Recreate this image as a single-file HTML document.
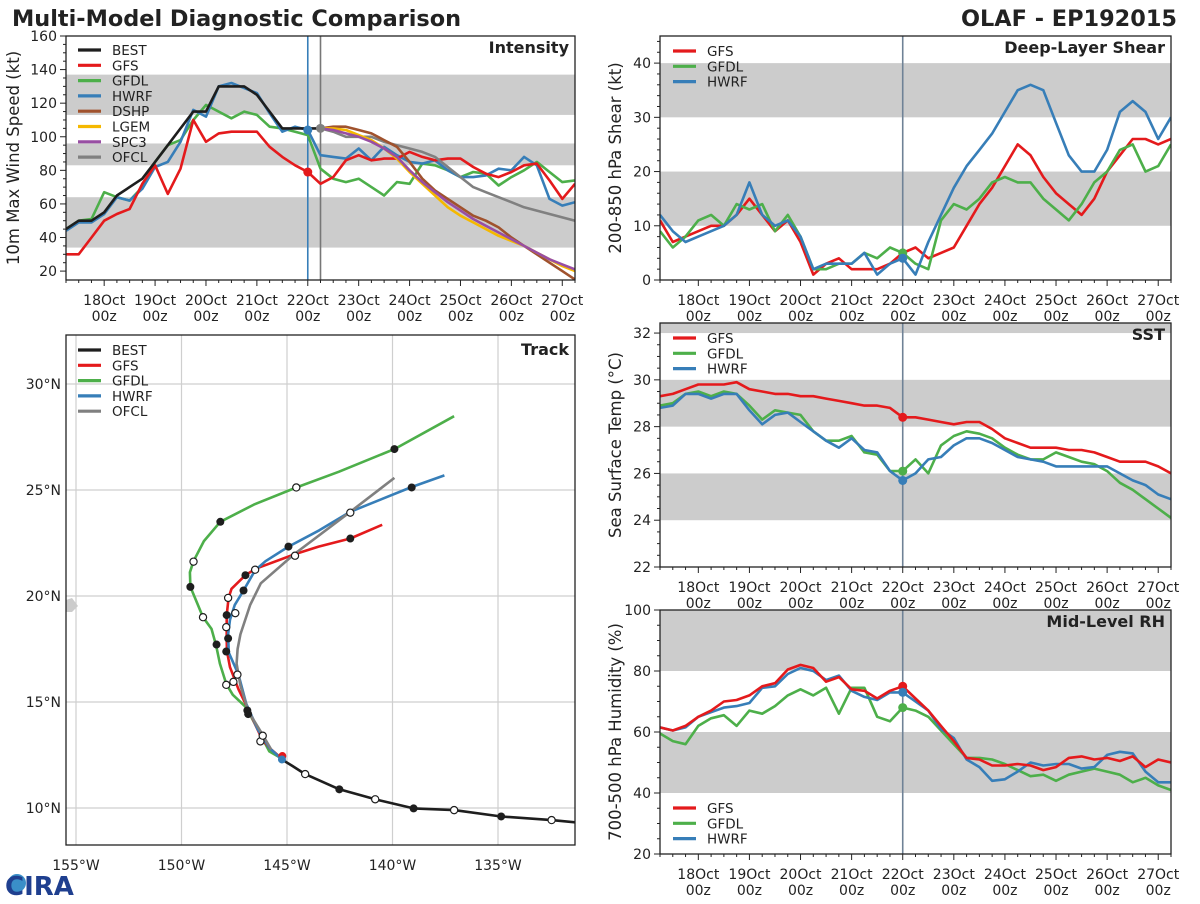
<!DOCTYPE html>
<html><head><meta charset="utf-8">
<style>
html,body{margin:0;padding:0;background:#fff;}
body{width:1200px;height:900px;overflow:hidden;font-family:"DejaVu Sans","Liberation Sans",sans-serif;}
svg text{font-family:"DejaVu Sans","Liberation Sans",sans-serif;}
</style></head>
<body>
<svg id="chart" width="1200" height="900" viewBox="0 0 1200 900" xmlns="http://www.w3.org/2000/svg">
  <text x="12" y="26" font-size="22.4" font-weight="bold" fill="#222">Multi-Model Diagnostic Comparison</text>
  <text x="1177" y="26" font-size="22.4" font-weight="bold" fill="#222" text-anchor="end">OLAF - EP192015</text>
  <g>
    <circle cx="17" cy="883" r="9" fill="#3a8fc8"/>
    <text x="5" y="895" font-size="26" font-weight="bold" fill="#1f3f8f" font-family="Liberation Serif, serif">CIRA</text>
  </g>
</svg>
<script>
// ---------- DATA ----------
const dayLabels = ["18Oct","19Oct","20Oct","21Oct","22Oct","23Oct","24Oct","25Oct","26Oct","27Oct"];
const intBEST = [45,50,50,55,65,70,75,85,95,105,115,115,130,130,130,125,115,105,105,105,105];
const intGFS = [30,30,40,50,54,57,72,83,66,81,110,97,102,103,103,103,94,88,83,79,72,76,86,89,86,87,87,91,88,86,87,87,82,78,76,79,83,84,74,63,72];
const intGFDL = [45,50,51,67,64,62,70,85,95,98,110,119,115,111,115,113,106,105,103,101,81,75,73,75,70,65,73,72,84,83,80,76,79,78,71,76,80,85,79,73,74];
const intHWRF = [44,49,49,54,64,62,69,82,85,97,116,112,130,132,129,126,114,103,106,104,89,88,87,93,86,94,89,85,84,86,80,76,76,77,81,80,88,83,63,59,61];
const intDSHP = [105,106,106,104,102,98,94,85,75,68,63,58,53,50,46,40,35,30,25,20,15];
const intLGEM = [105,105,104,101,98,93,87,79,72,65,58,53,49,45,41,38,35,31,27,23,20];
const intSPC3 = [105,104,102,100,97,93,88,80,73,67,61,56,51,47,43,39,35,31,27,24,21];
const intOFCL = [105,103,100,100,100,97,95,93,91,88,82,76,70,67,64,61,58,56,54,52,50];
const shrGFS = [11,7,8,9,10,10,12,15,12,9,11,7,1,3,4,2,2,2,3,5,6,4,5,6,10,14,17,21,25,23,19,16,14,12,15,20,23,26,26,25,26];
const shrGFDL = [9,6,8,11,12,10,14,13,14,9,12,8,2,2,3,3,5,4,6,5,3,2,11,14,13,15,18,19,18,18,15,13,11,14,18,20,24,25,20,21,25];
const shrHWRF = [12,9,7,8,9,10,12,18,12,10,11,8,2,3,3,3,5,1,3,4,1,7,12,17,21,24,27,31,35,36,35,29,23,20,20,24,31,33,31,26,30];
const sstGFS = [29.3,29.4,29.6,29.8,29.8,29.8,29.9,29.6,29.5,29.4,29.4,29.3,29.3,29.2,29.1,29.0,28.9,28.9,28.8,28.4,28.4,28.3,28.2,28.1,28.2,28.2,27.9,27.5,27.3,27.1,27.1,27.1,27.0,27.0,26.9,26.7,26.5,26.5,26.5,26.3,26.0];
const sstGFDL = [28.9,29.0,29.4,29.5,29.3,29.5,29.4,28.9,28.3,28.7,28.6,28.5,27.8,27.4,27.4,27.6,26.9,26.8,26.1,26.1,26.6,26.0,27.2,27.6,27.8,27.7,27.5,27.1,26.8,26.6,26.6,26.9,26.7,26.5,26.4,26.1,25.6,25.3,24.9,24.5,24.1];
const sstHWRF = [28.8,28.9,29.4,29.4,29.2,29.4,29.4,28.7,28.1,28.5,28.6,28.2,27.8,27.4,27.1,27.5,27.0,26.9,26.1,25.7,26.0,26.6,26.7,27.2,27.5,27.5,27.3,27.0,26.7,26.6,26.5,26.3,26.3,26.3,26.3,26.3,26.0,25.7,25.5,25.1,24.9];
const rhGFS = [61.5,60.5,62,65,67,70,70.5,72,75,76,80.5,82,81,76.5,78,74,73.5,71,73.5,75,71,67,62,57,51.5,51,49,49,49.5,49,47.5,48.5,51.5,52,51,51.5,50.5,52,48.5,51,50];
const rhGFDL = [59.5,57,56,62,64.5,65.5,62,67,66,68.5,72,74,72,74.5,66,74.5,74.5,65,63.5,68,67,65,60.5,56,51.5,51.5,51,49.5,47.5,45.5,46,44,46,47,48,47,46,43.5,45,42.5,41];
const rhHWRF = [61.5,60.5,61.5,65,66.5,68,68.5,69.5,74.5,75,79,81,80,77,78.5,73.5,71.5,70.5,73,73,70,67,61,58,51,48.5,44,44.5,47,50,49,49.5,49.5,48,48.5,52.5,53.5,53,47,43.5,43.5];
// track [lon, lat]
const trkBEST = [[-131.19,9.31],[-132.46,9.43],[-134.85,9.6],[-137.08,9.9],[-139.0,9.98],[-140.82,10.41],[-142.52,10.88],[-144.14,11.6],[-144.74,11.98],[-145.24,12.29]];
const trkGFS = [[-145.24,12.33],[-145.84,12.84],[-146.2,13.28],[-146.48,13.88],[-146.84,14.66],[-147.3,15.6],[-147.7,16.64],[-147.85,17.41],[-147.86,18.02],[-147.86,19.1],[-147.77,19.91],[-147.63,20.34],[-146.97,20.98],[-146.48,21.29],[-144.6,21.98],[-143.5,22.33],[-142.0,22.71],[-140.49,23.36]];
const trkGFDL = [[-145.24,12.33],[-145.84,12.67],[-146.93,14.74],[-147.57,15.34],[-147.88,15.86],[-148.18,16.81],[-148.36,17.67],[-148.58,18.45],[-148.98,19.0],[-149.22,19.57],[-149.58,20.43],[-149.6,21.12],[-149.43,21.64],[-148.94,22.59],[-148.16,23.5],[-146.57,24.31],[-144.56,25.12],[-142.55,25.86],[-139.91,26.93],[-137.08,28.48]];
const trkHWRF = [[-145.24,12.29],[-145.84,12.84],[-146.39,13.71],[-146.93,14.91],[-147.3,16.29],[-147.76,17.33],[-147.79,18.19],[-147.7,18.88],[-147.48,19.57],[-147.06,20.26],[-146.51,21.21],[-146.02,21.64],[-144.93,22.33],[-143.47,23.1],[-142.0,23.97],[-139.09,25.14],[-137.54,25.69]];
const trkOFCL = [[-145.75,12.76],[-146.2,13.53],[-146.84,14.57],[-147.21,15.78],[-147.39,16.81],[-147.34,17.5],[-147.21,18.19],[-146.75,19.57],[-146.24,20.6],[-144.65,21.98],[-142.0,23.97],[-139.91,25.57]];
const trkFilled = [[-139.91,26.93],[-148.16,23.5],[-149.58,20.43],[-148.34,17.71],[-146.88,14.6],[-142.0,22.71],[-146.97,20.98],[-147.86,19.1],[-147.79,18.0],[-147.88,17.38],[-146.84,14.43],[-144.93,22.33],[-147.06,20.26],[-139.09,25.12],[-134.85,9.6],[-139.0,9.98],[-142.52,10.88]];
const trkOpen = [[-144.56,25.12],[-149.43,21.62],[-148.98,19.0],[-147.88,15.81],[-144.62,21.9],[-147.79,19.91],[-147.88,18.53],[-147.54,15.95],[-146.26,13.14],[-146.51,21.24],[-147.45,19.19],[-147.35,16.29],[-142.0,23.93],[-146.15,13.41],[-132.46,9.43],[-137.08,9.9],[-140.82,10.41],[-144.14,11.6]];

// ---------- DRAWING ----------
const NS = 'http://www.w3.org/2000/svg';
const svg = document.getElementById('chart');
const C = {BEST:'#1e1e1e',GFS:'#e41a1c',GFDL:'#4daf4a',HWRF:'#377eb8',DSHP:'#a0522d',LGEM:'#f5b800',SPC3:'#984ea3',OFCL:'#808080'};
function mk(tag, attrs, parent){
  const e = document.createElementNS(NS, tag);
  for (const k in attrs) e.setAttribute(k, attrs[k]);
  (parent||svg).appendChild(e);
  return e;
}
function panel(p){
  const g = mk('g', {});
  
  
  p.g = g;
  p.xs = i => p.x0 + i*(p.x1-p.x0)/40;
  p.ys = v => p.y1 - (v-p.vmin)*(p.y1-p.y0)/(p.vmax-p.vmin);
  const cid = 'clip-'+p.name;
  const cp = mk('clipPath', {id:cid}, g);
  mk('rect', {x:p.x0, y:p.y0, width:p.x1-p.x0, height:p.y1-p.y0}, cp);
  p.clip = 'url(#'+cid+')';
  for (const b of p.bands){
    const r = mk('rect', {x:p.x0, y:p.ys(Math.min(b[1],p.vmax)), width:p.x1-p.x0, height:p.ys(b[0])-p.ys(Math.min(b[1],p.vmax)), fill:'#cccccc'}, g);
    
    
  }
  for (let v = p.vmin0; v <= p.vmax + 1e-6; v += p.minor){
    const y = p.ys(v);
    if (y < p.y0-0.5 || y > p.y1+0.5) continue;
    const isMaj = Math.abs((v - p.vmin0)/p.major - Math.round((v - p.vmin0)/p.major)) < 1e-6;
    mk('line', {x1:p.x0-(isMaj?6:3), x2:p.x0, y1:y, y2:y, stroke:'#222', 'stroke-width':1}, g);
    if (isMaj){
      const t = mk('text', {x:p.x0-9, y:y+5, 'font-size':14, fill:'#222', 'text-anchor':'end'}, g);
      t.textContent = String(Math.round(v));
      
      
    }
  }
  for (let i = 0; i <= 40; i++){
    const x = p.xs(i);
    const isMaj = (i % 4) === 3;
    mk('line', {x1:x, x2:x, y1:p.y1, y2:p.y1+(isMaj?6:3), stroke:'#222', 'stroke-width':1}, g);
    if (isMaj){
      const d = (i-3)/4;
      const t1 = mk('text', {x:x, y:p.y1+25, 'font-size':14, fill:'#222', 'text-anchor':'middle'}, g);
      t1.textContent = dayLabels[d];
      
      
      const t2 = mk('text', {x:x, y:p.y1+41, 'font-size':14, fill:'#222', 'text-anchor':'middle'}, g);
      t2.textContent = '00z';
      
      
    }
  }
  const yl = mk('text', {x:0, y:0, 'font-size':16.5, fill:'#222', 'text-anchor':'middle', transform:'translate('+p.ylx+','+((p.y0+p.y1)/2)+') rotate(-90)'}, g);
  yl.textContent = p.ylabel;
  
  
  return p;
}
function series(p, arr, start, color, name){
  const pts = arr.map((v,k) => p.xs(start+k).toFixed(1)+','+p.ys(v).toFixed(1)).join(' ');
  const l = mk('polyline', {points:pts, fill:'none', stroke:color, 'stroke-width':2.6, 'stroke-linejoin':'round', 'clip-path':p.clip}, p.g);
  
  
}
function dot(p, i, v, color){
  const c = mk('circle', {cx:p.xs(i), cy:p.ys(v), r:4.5, fill:color}, p.g);
  
  
}
function vline(p, i, color){
  const l = mk('line', {x1:p.xs(i), x2:p.xs(i), y1:p.y0, y2:p.y1, stroke:color, 'stroke-width':1.6}, p.g);
  
  
}
function frame(p){
  const r = mk('rect', {x:p.x0, y:p.y0, width:p.x1-p.x0, height:p.y1-p.y0, fill:'none', stroke:'#222', 'stroke-width':1.3}, p.g);
  
  
  const t = mk('text', {x:p.x1-6, y:p.y0+17, 'font-size':16, 'font-weight':'bold', fill:'#222', 'text-anchor':'end'}, p.g);
  t.textContent = p.title;
  
  
}
function legend(g, x, y, items, dy){
  items.forEach((it,k) => {
    const l = mk('line', {x1:x, x2:x+23, y1:y+k*dy, y2:y+k*dy, stroke:C[it], 'stroke-width':3.2}, g);
    
    
    const t = mk('text', {x:x+34, y:y+k*dy+5, 'font-size':13.5, fill:'#222'}, g);
    t.textContent = it;
    
    
  });
}

const pI = panel({name:'intensity-panel', x0:66, x1:575, y0:36, y1:280, vmin:14.7, vmax:160, vmin0:20, major:20, minor:5, bands:[[34,64],[83,96],[113,137]], ylabel:'10m Max Wind Speed (kt)', ylx:19, title:'Intensity'});
vline(pI, 19, '#377eb8'); vline(pI, 20, '#777777');
series(pI, intGFDL, 0, C.GFDL, 'gfdl-intensity-line');
series(pI, intHWRF, 0, C.HWRF, 'hwrf-intensity-line');
series(pI, intGFS, 0, C.GFS, 'gfs-intensity-line');
series(pI, intOFCL, 20, C.OFCL, 'ofcl-intensity-line');
series(pI, intDSHP, 20, C.DSHP, 'dshp-intensity-line');
series(pI, intLGEM, 20, C.LGEM, 'lgem-intensity-line');
series(pI, intSPC3, 20, C.SPC3, 'spc3-intensity-line');
series(pI, intBEST, 0, C.BEST, 'best-intensity-line');
dot(pI, 19, intGFS[19], C.GFS); dot(pI, 19, intHWRF[19], C.HWRF); dot(pI, 20, intOFCL[0], C.OFCL);
frame(pI);
legend(pI.g, 78, 50, ['BEST','GFS','GFDL','HWRF','DSHP','LGEM','SPC3','OFCL'], 15.3);

const pS = panel({name:'shear-panel', x0:660, x1:1171, y0:36, y1:280, vmin:0, vmax:45, vmin0:0, major:10, minor:2, bands:[[10,20],[30,40]], ylabel:'200-850 hPa Shear (kt)', ylx:621, title:'Deep-Layer Shear'});
vline(pS, 19, '#6f8296');
series(pS, shrGFS, 0, C.GFS, 'gfs-shear-line');
series(pS, shrGFDL, 0, C.GFDL, 'gfdl-shear-line');
series(pS, shrHWRF, 0, C.HWRF, 'hwrf-shear-line');
dot(pS, 19, shrGFDL[19], C.GFDL); dot(pS, 19, shrHWRF[19], C.HWRF);
frame(pS);
legend(pS.g, 673, 51, ['GFS','GFDL','HWRF'], 15.3);

const pT = panel({name:'sst-panel', x0:660, x1:1171, y0:323, y1:567, vmin:22, vmax:32.43, vmin0:22, major:2, minor:0.5, bands:[[24,26],[28,30],[32,33]], ylabel:'Sea Surface Temp (°C)', ylx:621, title:'SST'});
vline(pT, 19, '#6f8296');
series(pT, sstGFS, 0, C.GFS, 'gfs-sst-line');
series(pT, sstGFDL, 0, C.GFDL, 'gfdl-sst-line');
series(pT, sstHWRF, 0, C.HWRF, 'hwrf-sst-line');
dot(pT, 19, sstGFS[19], C.GFS); dot(pT, 19, sstGFDL[19], C.GFDL); dot(pT, 19, sstHWRF[19], C.HWRF);
frame(pT);
legend(pT.g, 673, 338, ['GFS','GFDL','HWRF'], 15.3);

const pR = panel({name:'rh-panel', x0:660, x1:1171, y0:610, y1:854, vmin:20, vmax:100, vmin0:20, major:20, minor:5, bands:[[40,60],[80,100]], ylabel:'700-500 hPa Humidity (%)', ylx:621, title:'Mid-Level RH'});
vline(pR, 19, '#6f8296');
series(pR, rhGFDL, 0, C.GFDL, 'gfdl-rh-line');
series(pR, rhHWRF, 0, C.HWRF, 'hwrf-rh-line');
series(pR, rhGFS, 0, C.GFS, 'gfs-rh-line');
dot(pR, 19, rhGFS[19], C.GFS); dot(pR, 19, rhGFDL[19], C.GFDL); dot(pR, 19, rhHWRF[19], C.HWRF);
frame(pR);
legend(pR.g, 673, 808, ['GFS','GFDL','HWRF'], 15.3);

const tk = {x0:66, x1:575, y0:335, y1:845};
const lonX = lon => 287 + (lon+145)*21.1;
const latY = lat => 596 - (lat-20)*21.2;
const tg = mk('g', {});


const tcp = mk('clipPath', {id:'clip-track'}, tg);
mk('rect', {x:tk.x0, y:tk.y0, width:tk.x1-tk.x0, height:tk.y1-tk.y0}, tcp);
const lonTicks = [-155,-150,-145,-140,-135];
const latTicks = [10,15,20,25,30];
lonTicks.forEach(lon => {
  const x = lonX(lon);
  const l = mk('line', {x1:x, x2:x, y1:tk.y0, y2:tk.y1, stroke:'#cfcfcf', 'stroke-width':1.2}, tg);
  
  
  const t = mk('text', {x:x, y:870, 'font-size':14, fill:'#222', 'text-anchor':'middle'}, tg);
  t.textContent = Math.abs(lon)+'°W';
  
  
});
latTicks.forEach(lat => {
  const y = latY(lat);
  const l = mk('line', {x1:tk.x0, x2:tk.x1, y1:y, y2:y, stroke:'#cfcfcf', 'stroke-width':1.2}, tg);
  
  
  const t = mk('text', {x:61, y:y+5, 'font-size':14, fill:'#222', 'text-anchor':'end'}, tg);
  t.textContent = lat+'°N';
  
  
});
const hawaii = mk('polygon', {points:'66,600 72,598 78,606 72,612 66,612', fill:'#cccccc'}, tg);


function track(arr, color, name){
  const pts = arr.map(p => lonX(p[0]).toFixed(1)+','+latY(p[1]).toFixed(1)).join(' ');
  const l = mk('polyline', {points:pts, fill:'none', stroke:color, 'stroke-width':2.6, 'stroke-linejoin':'round', 'clip-path':'url(#clip-track)'}, tg);
  
  
}
track(trkBEST, C.BEST, 'best-track-line');
track(trkGFDL, C.GFDL, 'gfdl-track-line');
track(trkGFS, C.GFS, 'gfs-track-line');
track(trkHWRF, C.HWRF, 'hwrf-track-line');
track(trkOFCL, C.OFCL, 'ofcl-track-line');
trkFilled.forEach(p => {
  const c = mk('circle', {cx:lonX(p[0]), cy:latY(p[1]), r:4, fill:'#1e1e1e'}, tg);
  
  
});
trkOpen.forEach(p => {
  const c = mk('circle', {cx:lonX(p[0]), cy:latY(p[1]), r:3.6, fill:'#fff', stroke:'#1e1e1e', 'stroke-width':1.2}, tg);
  
  
});
const sdot1 = mk('circle', {cx:lonX(-145.22), cy:latY(12.45), r:4, fill:C.GFS}, tg);


const sdot2 = mk('circle', {cx:lonX(-145.24), cy:latY(12.29), r:4, fill:C.HWRF}, tg);


const tframe = mk('rect', {x:tk.x0, y:tk.y0, width:tk.x1-tk.x0, height:tk.y1-tk.y0, fill:'none', stroke:'#222', 'stroke-width':1.3}, tg);


const ttitle = mk('text', {x:tk.x1-6, y:tk.y0+20, 'font-size':16, 'font-weight':'bold', fill:'#222', 'text-anchor':'end'}, tg);
ttitle.textContent = 'Track';


legend(tg, 78, 350, ['BEST','GFS','GFDL','HWRF','OFCL'], 15.3);
</script>
</body></html>
